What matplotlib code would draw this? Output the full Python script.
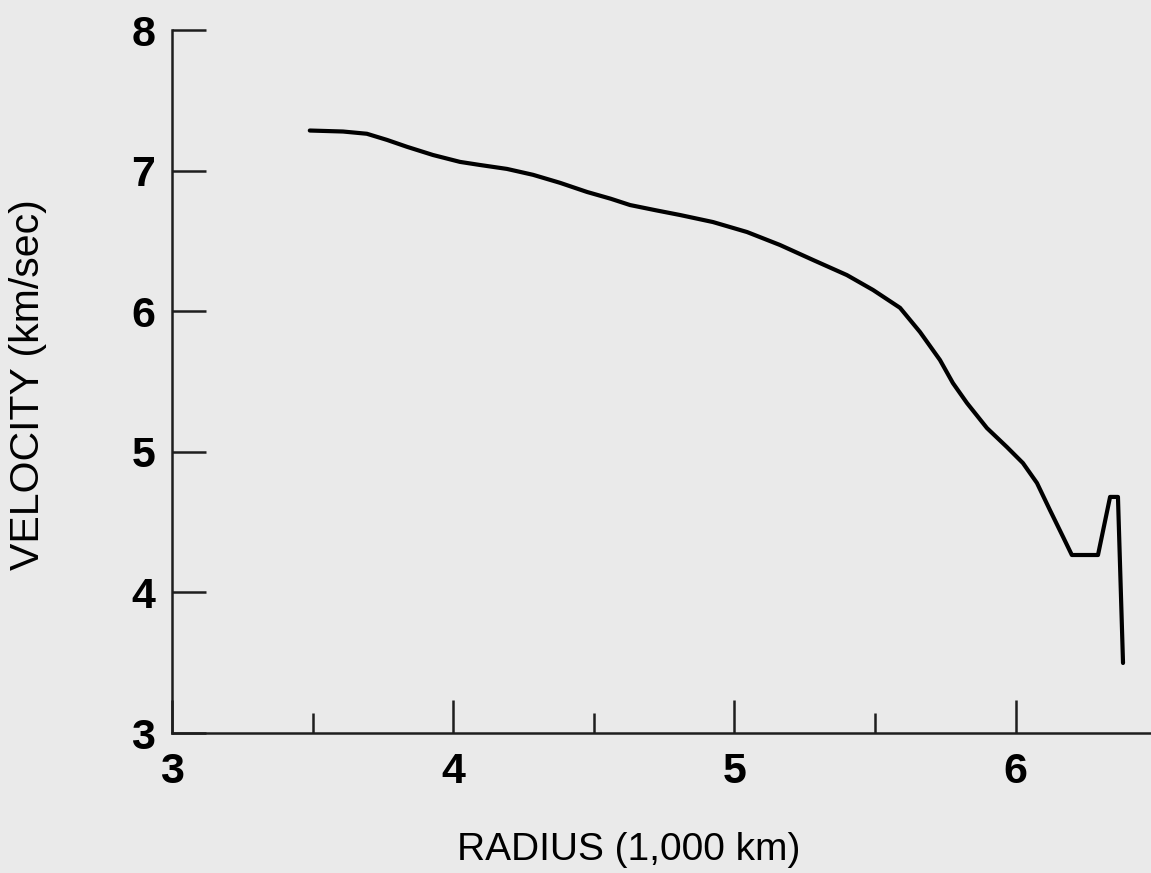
import matplotlib
matplotlib.use("Agg")
import matplotlib.pyplot as plt

# Data
radius = [3.49, 3.608, 3.693, 3.765, 3.836, 3.928, 4.024, 4.095, 4.191, 4.284,
          4.380, 4.476, 4.560, 4.629, 4.720, 4.807, 4.924, 5.045, 5.162, 5.280,
          5.400, 5.493, 5.589, 5.660, 5.731, 5.777, 5.827, 5.898, 5.969, 6.026,
          6.076, 6.122, 6.169, 6.200, 6.293, 6.336, 6.364, 6.382]
velocity = [7.285, 7.278, 7.262, 7.218, 7.169, 7.111, 7.062, 7.040, 7.012, 6.970,
            6.913, 6.848, 6.800, 6.755, 6.718, 6.684, 6.634, 6.563, 6.471, 6.364,
            6.257, 6.151, 6.024, 5.852, 5.653, 5.489, 5.347, 5.169, 5.034, 4.920,
            4.778, 4.586, 4.394, 4.266, 4.266, 4.679, 4.679, 3.498]
x_major = [3, 4, 5, 6]
x_minor = [3.5, 4.5, 5.5]
y_ticks = [3, 4, 5, 6, 7, 8]

bg = "#eaeaea"
ink = "#1e1e1e"
W, H = 1151, 873
fig = plt.figure(figsize=(W / 100, H / 100), dpi=100, facecolor=bg)
ax = fig.add_axes([172 / W, (H - 733) / H, (W - 172) / W, (733 - 30) / H])
ax.set_facecolor(bg)

ax.plot(radius, velocity, color="black", lw=3.0, solid_joinstyle="round",
        solid_capstyle="round")

ax.set_xlim(3, 3 + (W - 172) / 281.2)
ax.set_ylim(3, 8)
for s in ("top", "right"):
    ax.spines[s].set_visible(False)
for s in ("left", "bottom"):
    ax.spines[s].set_linewidth(1.8)
    ax.spines[s].set_color(ink)

ax.set_xticks(x_major)
ax.set_xticks(x_minor, minor=True)
ax.set_yticks(y_ticks)
font = "Liberation Sans"
ax.set_xticklabels([str(v) for v in x_major], fontsize=31, fontfamily=font,
                   fontweight="bold")
ax.set_yticklabels([str(v) for v in y_ticks], fontsize=31, fontfamily=font,
                   fontweight="bold")
ax.tick_params(axis="x", which="major", direction="in", length=23.5, width=1.8,
               pad=14, color=ink)
ax.tick_params(axis="x", which="minor", direction="in", length=14.5, width=1.8,
               color=ink)
ax.tick_params(axis="y", which="major", direction="in", length=24.5, width=1.8,
               pad=12, color=ink)

ax.set_xlabel("RADIUS (1,000 km)", fontsize=28, fontfamily=font)
ax.xaxis.set_label_coords((629 - 172) / (W - 172), -(850 - 733) / (733 - 30))
ax.xaxis.label.set_va("center")
ax.set_ylabel("VELOCITY (km/sec)", fontsize=29.5, fontfamily=font)
ax.yaxis.set_label_coords(-(172 - 28) / (W - 172), (733 - 385) / (733 - 30))
ax.yaxis.label.set_va("center")

fig.savefig("out.png", dpi=100, facecolor=bg)
